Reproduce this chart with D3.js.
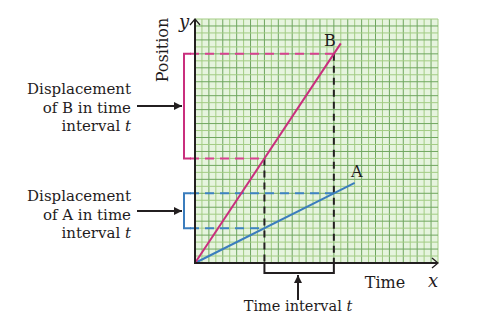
<!DOCTYPE html>
<html>
<head>
<meta charset="utf-8">
<script src="https://cdn.jsdelivr.net/npm/d3@7"></script>
<style>
  body { margin: 0; background: #fff; }
  text { font-family: "DejaVu Serif", serif; fill: #1f1c1d; }
</style>
</head>
<body>
<div id="chart"></div>
<script>
// values in grid units
var gridMax = 35;
var lineA = [[0, 0], [23, 11.5]];
var lineB = [[0, 0], [21, 31.5]];
var interval = [10, 20];
var labelsB = ["Displacement", "of B in time", "interval "];
var labelsA = ["Displacement", "of A in time", "interval "];

var pink = "#c92f7d", pinkDash = "#d7418f", blue = "#3b7dbd", ink = "#231f20";

var svg = d3.select("#chart").append("svg")
  .attr("width", 478).attr("height", 319);

var x = d3.scaleLinear().domain([0, gridMax]).range([195, 438]);
var y = d3.scaleLinear().domain([0, gridMax]).range([263, 19]);

// grid
svg.append("rect")
  .attr("x", x(0)).attr("y", y(gridMax))
  .attr("width", x(gridMax) - x(0)).attr("height", y(0) - y(gridMax))
  .attr("fill", "#e6f4de");

var ticks = d3.range(0, gridMax + 1);
svg.append("g").selectAll("line").data(ticks).enter().append("line")
  .attr("x1", d => x(d)).attr("x2", d => x(d))
  .attr("y1", y(0)).attr("y2", y(gridMax))
  .attr("stroke", d => d % 2 ? "#a3cc84" : "#6fa65f").attr("stroke-width", 1);
svg.append("g").selectAll("line").data(ticks).enter().append("line")
  .attr("y1", d => y(d)).attr("y2", d => y(d))
  .attr("x1", x(0)).attr("x2", x(gridMax))
  .attr("stroke", d => d % 2 ? "#a3cc84" : "#6fa65f").attr("stroke-width", 1);

// dashed guide lines
var t1 = interval[0], t2 = interval[1];
var slopeA = lineA[1][1] / lineA[1][0], slopeB = lineB[1][1] / lineB[1][0];

function hdash(yv, xv, color) {
  svg.append("line")
    .attr("x1", 190).attr("x2", x(xv))
    .attr("y1", y(yv)).attr("y2", y(yv))
    .attr("stroke", color).attr("stroke-width", 2)
    .attr("stroke-dasharray", "9,6");
}
hdash(slopeB * t2, t2, pinkDash);
hdash(slopeB * t1, t1, pinkDash);
hdash(slopeA * t2, t2, "#3d82c2");
hdash(slopeA * t1, t1, "#3d82c2");

[t1, t2].forEach(function(t) {
  svg.append("line")
    .attr("x1", x(t)).attr("x2", x(t))
    .attr("y1", y(slopeB * t)).attr("y2", y(0))
    .attr("stroke", ink).attr("stroke-width", 2)
    .attr("stroke-dasharray", "7,5");
});

// brackets
function bracket(y1, y2, color) {
  svg.append("path")
    .attr("d", "M191," + y(y1) + "H184V" + y(y2) + "H191")
    .attr("fill", "none").attr("stroke", color).attr("stroke-width", 2);
}
bracket(slopeB * t2, slopeB * t1, pink);
bracket(slopeA * t2, slopeA * t1, blue);

// time interval bracket
svg.append("path")
  .attr("d", "M" + x(t1) + "," + y(0) + "V273H" + x(t2) + "V" + y(0))
  .attr("fill", "none").attr("stroke", ink).attr("stroke-width", 2);

// lines A and B
var line = d3.line().x(d => x(d[0])).y(d => y(d[1]));
svg.append("path").datum(lineA).attr("d", line)
  .attr("stroke", blue).attr("stroke-width", 2).attr("fill", "none");
svg.append("path").datum(lineB).attr("d", line)
  .attr("stroke", pink).attr("stroke-width", 2).attr("fill", "none");

// axes
svg.append("path")
  .attr("d", "M" + x(0) + "," + (y(gridMax) + 1) + "V" + y(0) + "H" + (x(gridMax) - 1))
  .attr("fill", "none").attr("stroke", ink).attr("stroke-width", 2);
svg.append("path")
  .attr("d", "M" + (x(0) - 5) + "," + (y(gridMax) + 6) + "L" + x(0) + "," + y(gridMax) + "L" + (x(0) + 5) + "," + (y(gridMax) + 6))
  .attr("fill", "none").attr("stroke", ink).attr("stroke-width", 1.3);
svg.append("path")
  .attr("d", "M" + (x(gridMax) - 6) + "," + (y(0) - 5) + "L" + x(gridMax) + "," + y(0) + "L" + (x(gridMax) - 6) + "," + (y(0) + 5))
  .attr("fill", "none").attr("stroke", ink).attr("stroke-width", 1.3);

// arrows
svg.append("defs").append("marker")
  .attr("id", "head").attr("viewBox", "0 0 10 10")
  .attr("refX", 10).attr("refY", 5)
  .attr("markerWidth", 4).attr("markerHeight", 4)
  .attr("orient", "auto-start-reverse")
  .append("path").attr("d", "M0,0L10,5L0,10Z").attr("fill", ink);

function arrow(x1, y1, x2, y2) {
  svg.append("line")
    .attr("x1", x1).attr("y1", y1).attr("x2", x2).attr("y2", y2)
    .attr("stroke", ink).attr("stroke-width", 2)
    .attr("marker-end", "url(#head)");
}
arrow(137, 106, 182, 106);
arrow(137, 211, 182, 211);
arrow(298, 300, 298, 275);

// text labels
function block(lines, y0) {
  var t = svg.append("text").attr("text-anchor", "end").style("font-size", "15px");
  lines.forEach(function(l, i) {
    t.append("tspan").attr("x", 131).attr("y", y0 + i * 18.5).text(l);
    if (i == lines.length - 1) {
      t.append("tspan").style("font-style", "italic").text("t");
    }
  });
}
block(labelsB, 94);
block(labelsA, 201);

svg.append("text")
  .attr("x", x(lineB[1][0]) - 5).attr("y", y(lineB[1][1]) + 3)
  .attr("text-anchor", "end").style("font-size", "16px").text("B");
svg.append("text")
  .attr("x", x(lineA[1][0]) + 2).attr("y", y(lineA[1][1]) - 6)
  .attr("text-anchor", "middle").style("font-size", "16px").text("A");

svg.append("text")
  .attr("transform", "translate(168,50) rotate(-90)")
  .attr("text-anchor", "middle").style("font-size", "16px").text("Position");
svg.append("text")
  .attr("x", 184).attr("y", 28).attr("text-anchor", "middle")
  .style("font-size", "18px").style("font-style", "italic").text("y");

svg.append("text")
  .attr("x", 385).attr("y", 288).attr("text-anchor", "middle")
  .style("font-size", "16px").text("Time");
svg.append("text")
  .attr("x", 433).attr("y", 287).attr("text-anchor", "middle")
  .style("font-size", "18px").style("font-style", "italic").text("x");

var ti = svg.append("text").attr("x", 298).attr("y", 311).attr("text-anchor", "middle")
  .style("font-size", "14.5px");
ti.append("tspan").text("Time interval ");
ti.append("tspan").style("font-style", "italic").text("t");
</script>
</body>
</html>
